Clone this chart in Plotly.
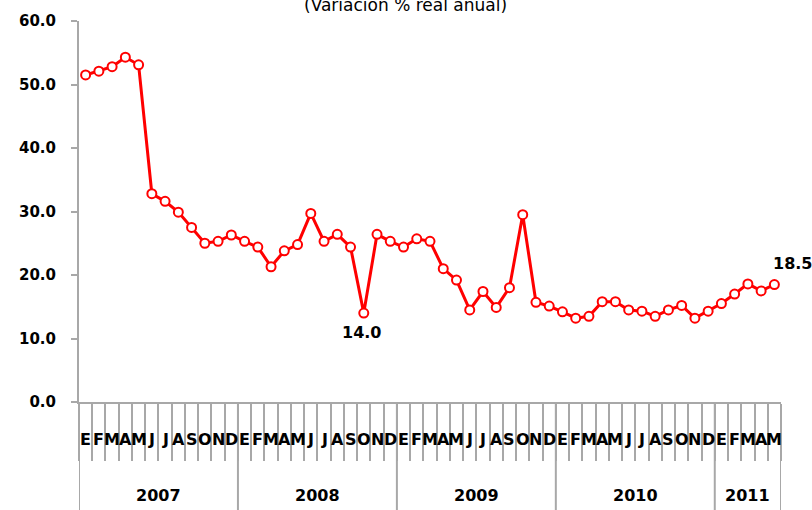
import plotly.graph_objects as go

# Monthly annual real variation, Jan 2007 - May 2011
years = ["2007", "2008", "2009", "2010", "2011"]
months_per_year = [12, 12, 12, 12, 5]
month_letters = ["E", "F", "M", "A", "M", "J", "J", "A", "S", "O", "N", "D"]

values = [
    51.5, 52.1, 52.8, 54.3, 53.1, 32.8, 31.6, 29.9, 27.5, 25.0, 25.3, 26.3,
    25.3, 24.4, 21.3, 23.8, 24.8, 29.7, 25.3, 26.4, 24.4, 14.0, 26.4, 25.3,
    24.4, 25.7, 25.3, 21.0, 19.2, 14.5, 17.4, 14.9, 18.0, 29.5, 15.7, 15.1,
    14.2, 13.2, 13.5, 15.8, 15.8, 14.5, 14.3, 13.5, 14.5, 15.2, 13.2, 14.3,
    15.5, 17.0, 18.6, 17.5, 18.5,
]
labelled_points = [21, 52]

month_labels = []
for n in months_per_year:
    month_labels += month_letters[:n]
x = list(range(len(values)))

gray = "#a8a8a8"
bold_font = dict(family="DejaVu Sans", size=16, color="black")

trace = go.Scatter(
    x=x, y=values, mode="lines+markers",
    line=dict(color="#ff0000", width=3),
    marker=dict(symbol="circle", size=9, color="white",
                line=dict(color="#ff0000", width=2)),
    showlegend=False, hoverinfo="skip",
)

fig = go.Figure(data=[trace])

annotations = []
# month letters under each category
for i, m in enumerate(month_labels):
    annotations.append(dict(x=i, y=-0.099, xref="x", yref="paper", text="<b>%s</b>" % m,
                            showarrow=False, font=bold_font, xanchor="center", yanchor="middle"))

# year labels and separators
shapes = []
start = 0
for yr, n in zip(years, months_per_year):
    annotations.append(dict(x=start + (n - 1) / 2, y=-0.245, xref="x", yref="paper",
                            text="<b>%s</b>" % yr, showarrow=False, font=bold_font,
                            xanchor="center", yanchor="middle"))
    shapes.append(dict(type="line", xref="x", yref="paper", x0=start - 0.5, x1=start - 0.5,
                       y0=0, y1=-0.3, line=dict(color=gray, width=2)))
    start += n
shapes.append(dict(type="line", xref="x", yref="paper", x0=start - 0.5, x1=start - 0.5,
                   y0=0, y1=-0.3, line=dict(color=gray, width=2)))

# data labels
annotations.append(dict(x=labelled_points[0], y=values[labelled_points[0]], text="<b>14.0</b>",
                        showarrow=False, yshift=-19, xshift=-2, font=bold_font))
annotations.append(dict(x=labelled_points[1], y=values[labelled_points[1]], text="<b>18.5</b>",
                        showarrow=False, yshift=21, xshift=18, font=bold_font))

# title, partly above the visible area as in the reference
annotations.append(dict(x=(405 - 79) / 702, y=1.042, xref="paper", yref="paper",
                        text="(Variación % real anual)", showarrow=False,
                        font=dict(family="DejaVu Sans", size=17, color="black"),
                        yanchor="middle"))

fig.update_layout(
    width=812, height=510,
    margin=dict(l=79, r=31, t=18, b=108),
    plot_bgcolor="white", paper_bgcolor="white",
    annotations=annotations, shapes=shapes,
    xaxis=dict(range=[-0.5, len(values) - 0.5],
               tickvals=[i - 0.5 for i in range(len(values) + 1)],
               showticklabels=False, ticks="outside", ticklen=57, tickwidth=2, tickcolor=gray,
               showline=True, linecolor=gray, linewidth=2, showgrid=False, zeroline=False),
    yaxis=dict(range=[0, 60], dtick=10, tickformat=".1f",
               ticks="outside", ticklen=6, tickwidth=2, tickcolor=gray,
               showline=True, linecolor=gray, linewidth=2, showgrid=False, zeroline=False,
               tickfont=dict(bold_font, size=15), tickprefix="<b>", ticksuffix="</b>",
               ticklabelstandoff=12),
)

fig.write_html("out.html", config={"displayModeBar": False},
               post_script="document.body.style.margin='0px';")
